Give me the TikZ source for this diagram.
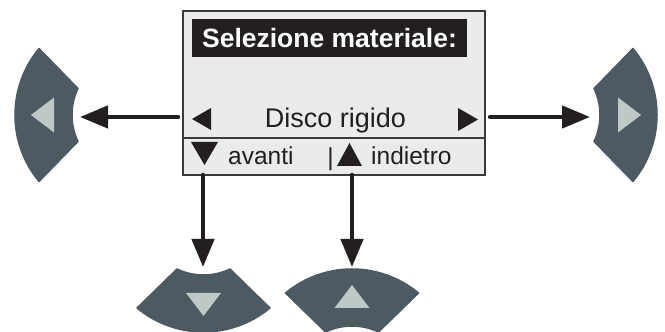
\documentclass[tikz,border=0pt]{standalone}
\usepackage{fontspec}
\setmainfont{Liberation Sans}
\usetikzlibrary{arrows.meta}
\definecolor{btncol}{HTML}{4E5A61}
\definecolor{btntri}{HTML}{BEC8C6}
\definecolor{scrfill}{HTML}{EAEBEA}
\definecolor{scrline}{HTML}{3A3A3A}
\definecolor{arrcol}{HTML}{231F20}
\newcommand\navbtn[2]{%
  \begin{scope}[shift={#1}, rotate=#2]
    \fill[btncol, draw=btncol, line width=1.5pt, line join=round]
      (-26.5,0) arc[start angle=-115.5, end angle=-64.5, radius=61.5]
      -- (66.5,-39) arc[start angle=-50.3, end angle=-129.7, radius=104.1] -- cycle;
    \fill[btntri] (-17.5,-24) -- (17.5,-24) -- (0,-47) -- cycle;
  \end{scope}}
\tikzset{
  screen/.style={draw=scrline, fill=scrfill, line width=1.5pt, rectangle, inner sep=0pt, outer sep=0pt},
  navarrow/.style={draw=arrcol, line width=4.5pt, line cap=round, -{Triangle[length=28pt,width=22pt]}},
  scrtri/.style={fill=arrcol},
  bigtxt/.style={font=\fontsize{27}{30}\selectfont, inner sep=0pt, text=arrcol},
  smalltxt/.style={font=\fontsize{24.5}{28}\selectfont, inner sep=0pt, text=arrcol},
}
\begin{document}
\begin{tikzpicture}[x=1pt,y=1pt]
\useasboundingbox (0,0) rectangle (665,332);
% screen
\node[screen, minimum width=302pt, minimum height=164pt] (screen) at (334,239) {};
\draw[scrline, line width=1.5pt] (screen.west |- 0,194) coordinate (divl) -- (screen.east |- 0,194) coordinate (divr);
\node[fill=arrcol, minimum width=275pt, minimum height=38pt, inner sep=0pt] (title) at (329.5,294) {};
\node[font=\fontsize{26.5}{30}\bfseries\selectfont, text=white, inner sep=0pt, anchor=base] (titletxt) at (329.5,284.5) {Selezione materiale:};
\node[bigtxt, anchor=base] (disco) at (335.5,204) {Disco rigido};
\fill[scrtri] (192,213) -- (211,224) -- (211,202) -- cycle;
\fill[scrtri] (478,212.5) -- (458,224) -- (458,201) -- cycle;
\fill[scrtri] (191,190) -- (218,190) -- (204.5,167) -- cycle;
\fill[scrtri] (337,166) -- (362,166) -- (349.5,189) -- cycle;
\node[smalltxt, anchor=base west] (avanti) at (228,167) {avanti};
\node[smalltxt, anchor=base] (bar) at (330.5,166) {|};
\node[smalltxt, anchor=base west] (indietro) at (371,167) {indietro};
% buttons
\navbtn{(78,217)}{-90}
\navbtn{(594,217)}{90}
\navbtn{(203.5,63)}{0}
\navbtn{(352,0)}{180}
% arrow ends
\coordinate (lstart) at (178,215);
\coordinate (lend) at (80,215);
\coordinate (rstart) at (490,215);
\coordinate (rend) at (590,215);
\coordinate (d1start) at (203,157);
\coordinate (d1end) at (203,65);
\coordinate (d2start) at (352,157);
\coordinate (d2end) at (352,65);
\draw[navarrow] (lstart) -- (lend);
\draw[navarrow] (rstart) -- (rend);
\draw[navarrow] (d1start) -- (d1end);
\draw[navarrow] (d2start) -- (d2end);
\end{tikzpicture}
\end{document}
